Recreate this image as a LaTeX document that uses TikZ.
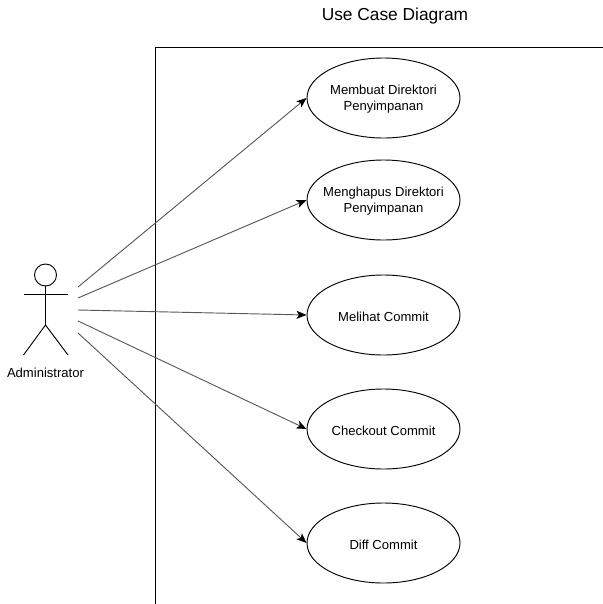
\documentclass[tikz,border=0pt]{standalone}
\usepackage{fontspec}
\setmainfont{Liberation Sans}
\usetikzlibrary{arrows.meta,shapes.geometric}
\begin{document}
\begin{tikzpicture}[x=0.75pt,y=-0.75pt,
  usecase/.style={draw,line width=0.7pt,ellipse,inner sep=-7pt,minimum width=114.75pt,minimum height=60pt,font=\fontsize{9.8pt}{12pt}\selectfont,align=center,text depth=0pt,execute at begin node={\rule{0pt}{10.2pt}}},
  conn/.style={-{Stealth[length=7.5pt,width=6pt,inset=1.8pt,color=black]},draw=black!65,line width=0.7pt},
  stick/.style={draw=black,line width=0.7pt}]
\useasboundingbox (0,0) rectangle (603,604);

%Title
\node[font=\fontsize{13pt}{15pt}\selectfont] (title) at (395,16.5){Use Case Diagram};

%Boundary
\coordinate (bl) at (155,604);
\coordinate (tl) at (155,47);
\coordinate (tr) at (603,47);
\draw[stick] (bl) -- (tl) -- (tr);

%Actor
\node[draw,circle,line width=0.7pt,minimum size=16.5pt,inner sep=0pt] (head) at (45.5,275){};
\coordinate (armleft) at (23.5,294);
\coordinate (armright) at (68,294);
\coordinate (hip) at (45.5,325);
\coordinate (footleft) at (23.5,355);
\coordinate (footright) at (68,355);
\draw[stick] (head.south) -- (hip);
\draw[stick] (armleft) -- (armright);
\draw[stick] (footleft) -- (hip) -- (footright);
\node[font=\fontsize{9.8pt}{12pt}\selectfont] (actor) at (45.5,373){Administrator};

%Use cases
\node[usecase] (uc1) at (383.5,98){Membuat Direktori\\Penyimpanan};
\node[usecase] (uc2) at (383.5,200){Menghapus Direktori\\Penyimpanan};
\node[usecase] (uc3) at (383.5,315){Melihat Commit};
\node[usecase] (uc4) at (383.5,429){Checkout Commit};
\node[usecase] (uc5) at (383.5,543){Diff Commit};

%Free ends at the actor
\coordinate (a1) at (78,287);
\coordinate (a2) at (78,298);
\coordinate (a3) at (78,310);
\coordinate (a4) at (78,321);
\coordinate (a5) at (78,333);

\draw[conn] (a1) -- (uc1.west);
\draw[conn] (a2) -- (uc2.west);
\draw[conn] (a3) -- (uc3.west);
\draw[conn] (a4) -- (uc4.west);
\draw[conn] (a5) -- (uc5.west);
\end{tikzpicture}
\end{document}
